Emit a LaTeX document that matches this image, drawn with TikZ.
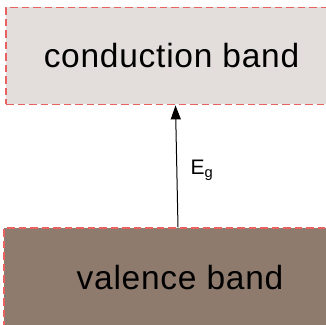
\documentclass[tikz,border=0pt]{standalone}
\usepackage{fontspec}
\setmainfont{Liberation Sans}
\newfontfamily\bandfont[LetterSpace=2.2]{Liberation Sans}
\usepackage{tikz}
\usetikzlibrary{arrows.meta, positioning}
\definecolor{bandgray}{RGB}{227, 222, 220}
\definecolor{bandbrown}{RGB}{143, 123, 110}
\definecolor{bandred}{RGB}{232, 98, 98}

\begin{document}
\begin{tikzpicture}[
    x=1pt, y=-1pt,
    band/.style={rectangle, draw=bandred, line width=1.2pt, dash pattern=on 7.5pt off 4pt, inner sep=0pt, font=\bandfont\fontsize{33.5}{38}\selectfont},
    arrow/.style={-{Triangle[length=14pt, width=10pt]}, line width=1pt}
]
    \useasboundingbox (0,0) rectangle (326,324);
    \clip (0,0) rectangle (326,324);

    % Conduction band
    \node[band, fill=bandgray, minimum width=331pt, minimum height=97pt] (cb) at (171.5, 55.8) {conduction band};

    % Valence band
    \node[band, fill=bandbrown, minimum width=352pt, minimum height=100pt] (vb) at (180, 278) {valence band};

    % Gap
    \draw[arrow] ([xshift=-2pt]vb.north) -- ([xshift=4pt, yshift=-0.5pt]cb.south)
        node[pos=0.47, right=10pt, font=\fontsize{21}{24}\selectfont] (eg) {E\textsubscript{g}};
\end{tikzpicture}
\end{document}
